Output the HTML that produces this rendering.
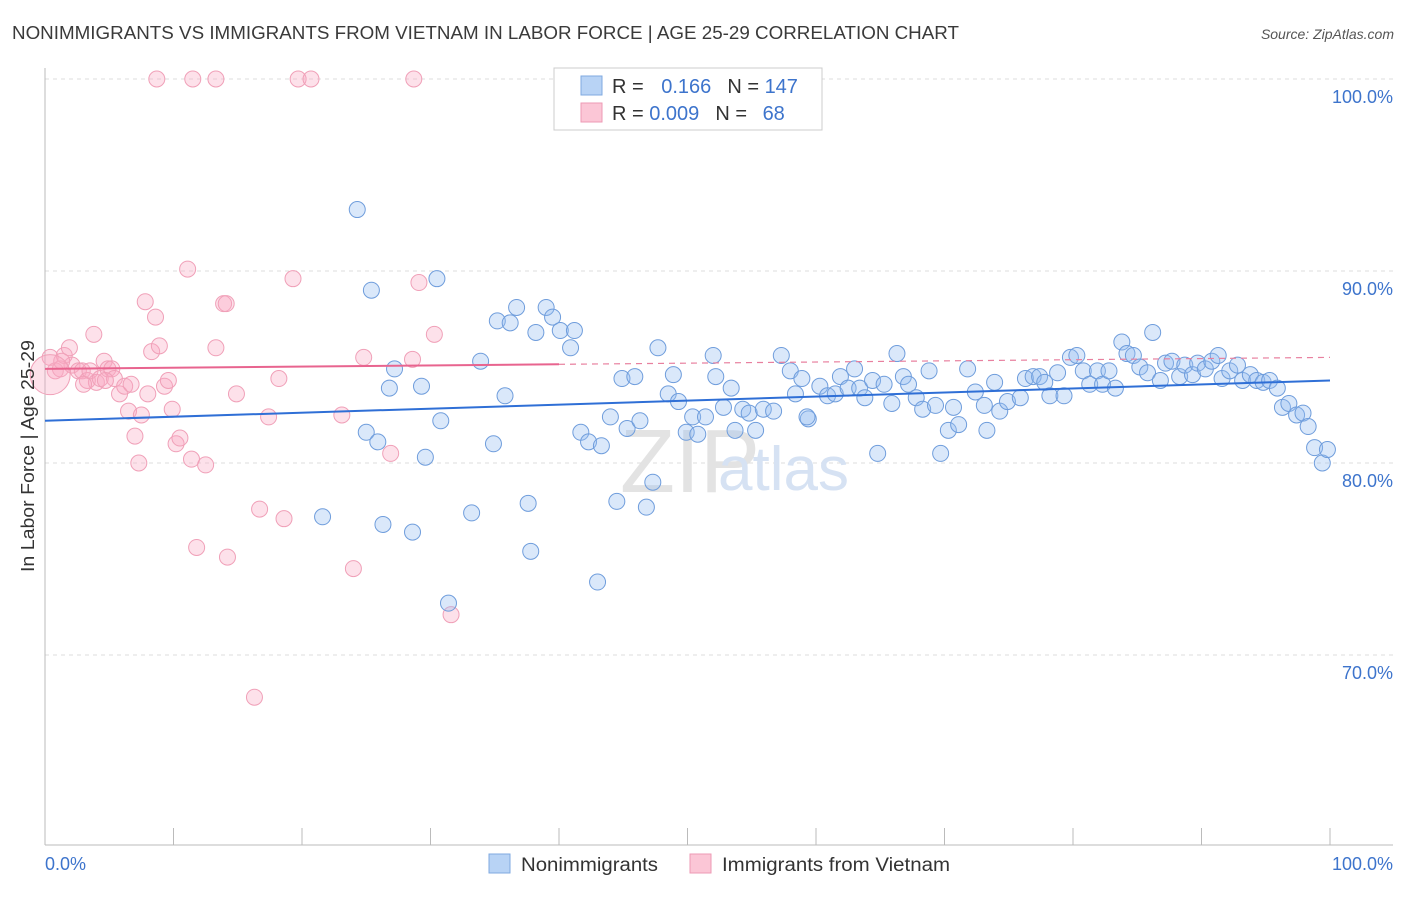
<!DOCTYPE html>
<html><head><meta charset="utf-8"><style>
body{margin:0;background:#fff;width:1406px;height:892px;overflow:hidden;font-family:"Liberation Sans",sans-serif}
svg text{font-family:"Liberation Sans",sans-serif}
</style></head><body>
<svg id="chart" width="1406" height="892">
<text x="12" y="39" font-size="18" fill="#3a3a3a" textLength="947" lengthAdjust="spacingAndGlyphs">NONIMMIGRANTS VS IMMIGRANTS FROM VIETNAM IN LABOR FORCE | AGE 25-29 CORRELATION CHART</text>
<text x="1394" y="39" font-size="14" fill="#555" font-style="italic" text-anchor="end">Source: ZipAtlas.com</text>
<g id="grid"></g>
<g id="axes"></g>
<text x="620" y="492" font-size="90" fill="#e3e3e3" font-family="Liberation Serif">ZIP</text>
<text x="718" y="490" font-size="62" fill="#d6e2f3">atlas</text>
<g id="pink"></g>
<g id="blue"></g>
<g id="trends"></g>
<text transform="translate(34,456) rotate(-90)" font-size="18" fill="#333" text-anchor="middle" textLength="232" lengthAdjust="spacingAndGlyphs">In Labor Force | Age 25-29</text>
<g>
<rect x="554" y="68" width="268" height="62" fill="#fff" stroke="#ccc"/>
<rect x="581" y="76" width="21" height="19" fill="#b8d3f5" stroke="#7fa9e0"/>
<rect x="581" y="103" width="21" height="19" fill="#fbc6d6" stroke="#ee9ab4"/>
<text x="612" y="93" font-size="20" fill="#333">R = <tspan fill="#3d74cc" dx="12">0.166</tspan><tspan dx="16" fill="#333">N = </tspan><tspan fill="#3d74cc">147</tspan></text>
<text x="612" y="120" font-size="20" fill="#333">R = <tspan fill="#3d74cc">0.009</tspan><tspan dx="16" fill="#333">N = </tspan><tspan fill="#3d74cc" dx="10">68</tspan></text>
</g>
<g>
<rect x="489" y="854" width="21" height="19" fill="#b8d3f5" stroke="#7fa9e0"/>
<text x="521" y="871" font-size="19" fill="#333" textLength="137" lengthAdjust="spacingAndGlyphs">Nonimmigrants</text>
<rect x="690" y="854" width="21" height="19" fill="#fbc6d6" stroke="#ee9ab4"/>
<text x="722" y="871" font-size="19" fill="#333" textLength="228" lengthAdjust="spacingAndGlyphs">Immigrants from Vietnam</text>
</g>
</svg>
<script>
const yTicks=[100,90,80,70];
const yTickLabels=["100.0%","90.0%","80.0%","70.0%"];
const xTickLabels=["0.0%","100.0%"];
const blueX=[24.3,25.4,30.5,26.8,27.2,29.3,25.0,25.9,30.8,29.6,21.6,26.3,28.6,33.2,31.4,33.9,35.2,36.2,36.7,35.8,34.9,39.0,39.5,38.2,40.1,41.2,40.9,37.6,37.8,43.0,44.5,46.8,47.3,41.7,42.3,43.3,44.0,45.3,46.3,44.9,45.9,47.7,48.5,48.9,49.3,49.9,50.4,50.8,51.4,52.0,52.2,52.8,53.4,53.7,54.3,54.8,55.3,55.9,56.7,57.3,58.0,58.4,58.9,59.4,60.3,60.9,61.5,61.9,62.5,63.0,63.4,63.8,64.4,65.3,65.9,66.3,66.8,67.2,67.8,68.3,68.8,69.3,69.7,70.3,70.7,71.1,71.8,72.4,73.1,73.3,73.9,74.3,74.9,75.9,76.3,76.9,77.4,77.8,78.2,78.8,79.3,79.8,80.3,80.8,81.3,81.9,82.3,82.8,83.3,83.8,84.2,84.7,85.2,85.8,86.2,86.8,87.2,87.7,88.3,88.7,89.3,89.7,90.3,90.8,91.3,91.6,92.2,92.8,93.2,93.8,94.3,94.8,95.3,95.9,96.3,96.8,97.4,97.9,98.3,98.8,99.4,99.8,64.8,59.3];
const blueY=[93.2,89.0,89.6,83.9,84.9,84.0,81.6,81.1,82.2,80.3,77.2,76.8,76.4,77.4,72.7,85.3,87.4,87.3,88.1,83.5,81.0,88.1,87.6,86.8,86.9,86.9,86.0,77.9,75.4,73.8,78.0,77.7,79.0,81.6,81.1,80.9,82.4,81.8,82.2,84.4,84.5,86.0,83.6,84.6,83.2,81.6,82.4,81.5,82.4,85.6,84.5,82.9,83.9,81.7,82.8,82.6,81.7,82.8,82.7,85.6,84.8,83.6,84.4,82.3,84.0,83.5,83.6,84.5,83.9,84.9,83.9,83.4,84.3,84.1,83.1,85.7,84.5,84.1,83.4,82.8,84.8,83.0,80.5,81.7,82.9,82.0,84.9,83.7,83.0,81.7,84.2,82.7,83.2,83.4,84.4,84.5,84.5,84.2,83.5,84.7,83.5,85.5,85.6,84.8,84.1,84.8,84.1,84.8,83.9,86.3,85.7,85.6,85.0,84.7,86.8,84.3,85.2,85.3,84.5,85.1,84.6,85.2,84.9,85.3,85.6,84.4,84.8,85.1,84.3,84.6,84.3,84.2,84.3,83.9,82.9,83.1,82.5,82.6,81.9,80.8,80.0,80.7,80.5,82.4];
const pinkX=[8.7,11.5,13.3,19.7,20.7,28.7,0.4,0.8,1.2,1.5,1.9,2.1,2.6,2.9,3.3,3.5,3.8,4.0,4.3,4.6,4.9,5.2,5.4,5.8,6.2,6.5,6.7,7.0,7.3,7.5,7.8,8.0,8.3,8.6,8.9,9.3,9.6,9.9,10.2,10.5,11.1,11.4,11.8,12.5,13.3,13.9,14.1,14.2,14.9,16.3,16.7,17.4,18.2,18.6,19.3,23.1,24.0,24.8,26.9,28.6,29.1,30.3,31.6,1.3,4.7,3.0,0.4];
const pinkY=[100,100,100,100,100,100,85.5,84.8,84.9,85.6,86.0,85.1,84.8,84.8,84.3,84.8,86.7,84.2,84.4,85.3,84.9,84.9,84.4,83.6,84.0,82.7,84.1,81.4,80.0,82.5,88.4,83.6,85.8,87.6,86.1,84.0,84.3,82.8,81.0,81.3,90.1,80.2,75.6,79.9,86.0,88.3,88.3,75.1,83.6,67.8,77.6,82.4,84.4,77.1,89.6,82.5,74.5,85.5,80.5,85.4,89.4,86.7,72.1,85.3,84.3,84.1,84.6];
const blueTrend=[82.2,84.3];
const pinkTrend=[84.9,85.5];
const NS="http://www.w3.org/2000/svg";
const X0=45,X1=1330,Y100=79,PX_PER=19.2;
function sx(v){return X0+(X1-X0)*v/100;}
function sy(v){return Y100+(100-v)*PX_PER;}
function mk(tag,attrs,parent){const e=document.createElementNS(NS,tag);for(const k in attrs)e.setAttribute(k,attrs[k]);parent.appendChild(e);return e;}
const grid=document.getElementById('grid'),axes=document.getElementById('axes');
yTicks.forEach((t,i)=>{
 const l=mk('line',{x1:45,x2:1393,y1:sy(t),y2:sy(t),stroke:'#ddd','stroke-dasharray':'4,4'},grid);
 
 
 const tx=mk('text',{x:1393,y:sy(t)+24,'font-size':18,fill:'#3d74cc','text-anchor':'end'},axes);
 tx.textContent=yTickLabels[i];
 
 
});
mk('line',{x1:45,x2:45,y1:68,y2:845,stroke:'#bbb'},axes);
mk('line',{x1:45,x2:1393,y1:845,y2:845,stroke:'#bbb'},axes);
for(let i=0;i<=10;i++){
 const tk=mk('line',{x1:sx(i*10),x2:sx(i*10),y1:828,y2:845,stroke:'#bbb'},axes);
 
 
}
const xl0=mk('text',{x:45,y:870,'font-size':18,fill:'#3d74cc'},axes);xl0.textContent=xTickLabels[0];


const xl1=mk('text',{x:1393,y:870,'font-size':18,fill:'#3d74cc','text-anchor':'end'},axes);xl1.textContent=xTickLabels[1];


const pg=document.getElementById('pink');
pinkX.forEach((x,i)=>{
 const big=(i===pinkX.length-1);
 const c=mk('circle',{cx:sx(x),cy:sy(pinkY[i]),r:big?20:8,fill:'rgba(248,170,195,0.35)',stroke:'#f0a0b8','stroke-width':1},pg);
 
 
});
const bg=document.getElementById('blue');
blueX.forEach((x,i)=>{
 const c=mk('circle',{cx:sx(x),cy:sy(blueY[i]),r:8,fill:'rgba(150,190,240,0.35)',stroke:'#6f9ddc','stroke-width':1},bg);
 
 
});
const tg=document.getElementById('trends');
const bl=mk('line',{x1:sx(0),y1:sy(blueTrend[0]),x2:sx(100),y2:sy(blueTrend[1]),stroke:'#2f6fd6','stroke-width':2},tg);


const pMid=pinkTrend[0]+(pinkTrend[1]-pinkTrend[0])*0.4;
const pl=mk('line',{x1:sx(0),y1:sy(pinkTrend[0]),x2:sx(40),y2:sy(pMid),stroke:'#e8648f','stroke-width':2},tg);


const pd=mk('line',{x1:sx(40),y1:sy(pMid),x2:sx(100),y2:sy(pinkTrend[1]),stroke:'#e8809f','stroke-width':1.2,'stroke-dasharray':'6,5'},tg);


</script>
</body></html>
